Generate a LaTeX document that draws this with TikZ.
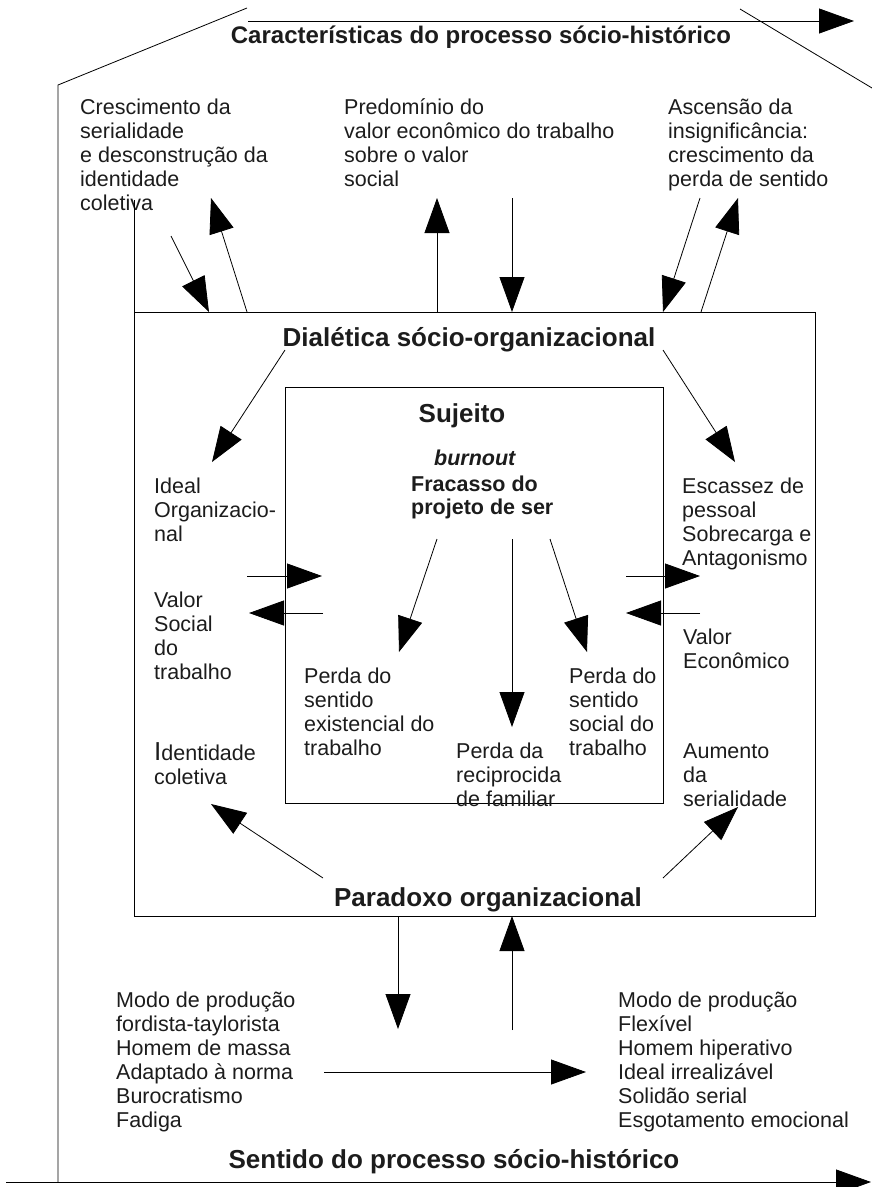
\documentclass[tikz,border=0pt]{standalone}
\usepackage{fontspec}
\setmainfont{Liberation Sans}
\usetikzlibrary{arrows.meta}
\newcommand{\mlines}[1]{\vtop{\halign{##\hfil\cr#1\crcr}}}
\definecolor{txt}{RGB}{28,28,28}
\begin{document}
\begin{tikzpicture}[x=1pt,y=-1pt,
  body/.style={font=\fontsize{21.5}{24}\selectfont, inner sep=0pt, anchor=base west, text=txt},
  bodyb/.style={font=\bfseries\fontsize{21.5}{23}\selectfont, inner sep=0pt, anchor=base west, text=txt},
  ttl/.style={font=\bfseries\fontsize{26}{30}\selectfont, inner sep=0pt, anchor=base, text=txt},
  ttls/.style={font=\bfseries\fontsize{24}{28}\selectfont, inner sep=0pt, anchor=base, text=txt},
  arr/.style={-{Triangle[length=35pt,width=25pt]}, line width=0.8pt},
  ln/.style={line width=0.8pt},
  box/.style={draw, line width=0.8pt, inner sep=0pt, anchor=north west}]
\useasboundingbox (0,0) rectangle (872,1187);

% boxes
\node[box, minimum width=681pt, minimum height=604pt] (outer) at (134,312) {};
\node[box, minimum width=378pt, minimum height=416pt] (inner) at (285,387) {};

% titles
\node[ttls] (carac) at (481,43.5) {Características do processo sócio-histórico};
\node[ttl] (dial) at (469,346) {Dialética sócio-organizacional};
\node[ttl] (sujeito) at (462,422) {Sujeito};
\node[bodyb] (burnout) at (434,465) {\textit{burnout}};
\node[bodyb] (fracasso) at (411,491) {\mlines{Fracasso do\cr projeto de ser}};
\node[ttl] (paradoxo) at (488,906) {Paradoxo organizacional};
\node[ttl] (sentido) at (454,1168) {Sentido do processo sócio-histórico};

% body texts
\node[body] (cresc) at (80,114.5) {\mlines{Crescimento da\cr serialidade\cr e desconstrução da\cr identidade\cr coletiva}};
\node[body] (predom) at (344,114.5) {\mlines{Predomínio do\cr valor econômico do trabalho\cr sobre o valor\cr social}};
\node[body] (ascen) at (668,114.5) {\mlines{Ascensão da\cr insignificância:\cr crescimento da\cr perda de sentido}};
\node[body] (ideal) at (154,493.5) {\mlines{Ideal\cr Organizacio-\cr nal}};
\node[body] (escassez) at (682,493.5) {\mlines{Escassez de\cr pessoal\cr Sobrecarga e\cr Antagonismo}};
\node[body] (vsocial) at (154,607.5) {\mlines{Valor\cr Social\cr do\cr trabalho}};
\node[body] (veco) at (683,644.5) {\mlines{Valor\cr Econômico}};
\node[body] (pexist) at (304,683.5) {\mlines{Perda do\cr sentido\cr existencial do\cr trabalho}};
\node[body] (psocial) at (569,683.5) {\mlines{Perda do\cr sentido\cr social do\cr trabalho}};
\node[body] (precip) at (456,758.5) {\mlines{Perda da\cr reciprocida\cr de familiar}};
\node[body] (ident) at (154,760.5) {\mlines{{\fontsize{26}{24}\selectfont I}dentidade\cr coletiva}};
\node[body] (aumento) at (683,758.5) {\mlines{Aumento\cr da\cr serialidade}};
\node[body] (fordista) at (116,1007.5) {\mlines{Modo de produção\cr fordista-taylorista\cr Homem de massa\cr Adaptado à norma\cr Burocratismo\cr Fadiga}};
\node[body] (flexivel) at (618,1007.5) {\mlines{Modo de produção\cr Flexível\cr Homem hiperativo\cr Ideal irrealizável\cr Solidão serial\cr Esgotamento emocional}};

% frame lines
\coordinate (tl1) at (247,8);
\coordinate (tl2) at (58,85);
\coordinate (bl) at (58,1182);
\coordinate (tr1) at (740,9);
\coordinate (tr2) at (872,88);
\coordinate (lx) at (134,200);
\draw[ln] (tl1) -- (tl2) -- (bl);
\draw[ln] (tr1) -- (tr2);
\draw[ln] (lx) -- (outer.north west);

% axes
\coordinate (ax1s) at (248,21);
\coordinate (ax1e) at (854,21);
\coordinate (ax2s) at (6,1182);
\coordinate (ax2e) at (871,1182);
\draw[arr] (ax1s) -- (ax1e);
\draw[arr] (ax2s) -- (ax2e);

% arrows between top texts and outer box
\coordinate (a1s) at (171,236); \coordinate (a1e) at (209,312);
\coordinate (a2s) at (247,312); \coordinate (a2e) at (211,198);
\coordinate (a3s) at (437,312); \coordinate (a3e) at (437,198);
\coordinate (a4s) at (512,198); \coordinate (a4e) at (512,312);
\coordinate (a5s) at (700,198); \coordinate (a5e) at (663,312);
\coordinate (a6s) at (701,312); \coordinate (a6e) at (738,198);
\draw[arr] (a1s) -- (a1e);
\draw[arr] (a2s) -- (a2e);
\draw[arr] (a3s) -- (a3e);
\draw[arr] (a4s) -- (a4e);
\draw[arr] (a5s) -- (a5e);
\draw[arr] (a6s) -- (a6e);

% dialetica arrows
\coordinate (d1s) at (285,350); \coordinate (d1e) at (212,462);
\coordinate (d2s) at (663,350); \coordinate (d2e) at (735,462);
\draw[arr] (d1s) -- (d1e);
\draw[arr] (d2s) -- (d2e);

% side arrows
\coordinate (l1s) at (247,576); \coordinate (l1e) at (322,576);
\coordinate (l2s) at (323,613); \coordinate (l2e) at (249,613);
\coordinate (r1s) at (626,576); \coordinate (r1e) at (700,576);
\coordinate (r2s) at (700,613); \coordinate (r2e) at (626,613);
\draw[arr] (l1s) -- (l1e);
\draw[arr] (l2s) -- (l2e);
\draw[arr] (r1s) -- (r1e);
\draw[arr] (r2s) -- (r2e);

% fracasso arrows
\coordinate (f1s) at (437,539); \coordinate (f1e) at (399,652);
\coordinate (f2s) at (512,539); \coordinate (f2e) at (512,727);
\coordinate (f3s) at (550,539); \coordinate (f3e) at (587,652);
\draw[arr] (f1s) -- (f1e);
\draw[arr] (f2s) -- (f2e);
\draw[arr] (f3s) -- (f3e);

% paradoxo arrows
\coordinate (p1s) at (323,878); \coordinate (p1e) at (211,804);
\coordinate (p2s) at (663,878); \coordinate (p2e) at (738,807);
\draw[arr] (p1s) -- (p1e);
\draw[arr] (p2s) -- (p2e);

% bottom arrows
\coordinate (b1s) at (398,916); \coordinate (b1e) at (398,1029);
\coordinate (b2s) at (512,1030); \coordinate (b2e) at (512,916);
\coordinate (h1s) at (324,1072); \coordinate (h1e) at (586,1072);
\draw[arr] (b1s) -- (b1e);
\draw[arr] (b2s) -- (b2e);
\draw[arr] (h1s) -- (h1e);
\end{tikzpicture}
\end{document}
